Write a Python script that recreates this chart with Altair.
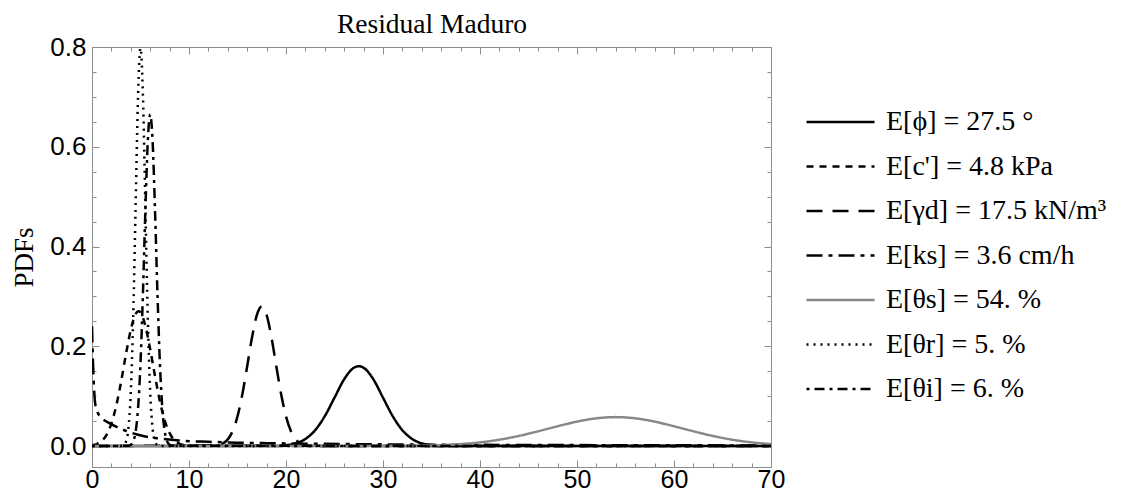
import altair as alt
import pandas as pd

# ---- data ----
series = [
    "E[ϕ] = 27.5 °",
    "E[c'] = 4.8 kPa",
    "E[γd] = 17.5 kN/m³",
    "E[ks] = 3.6 cm/h",
    "E[θs] = 54. %",
    "E[θr] = 5. %",
    "E[θi] = 6. %",
]

phi_x = [0, 19, 20, 21, 22, 23, 24, 25, 26, 27, 27.5, 28, 29, 30, 31, 32, 33, 34, 35, 36, 70]
phi_y = [0, 0, 0.0018, 0.0054, 0.0142, 0.0317, 0.060, 0.097, 0.134, 0.157, 0.160, 0.157, 0.134,
         0.097, 0.060, 0.0317, 0.0142, 0.0054, 0.0018, 0, 0]

cp_x = [0, 0.5, 1, 1.5, 2, 2.5, 3, 3.5, 4, 4.5, 4.8, 5, 5.5, 6, 6.5, 7, 7.5, 8, 8.5, 9, 9.5, 10, 70]
cp_y = [0.0014, 0.004, 0.010, 0.0225, 0.045, 0.081, 0.129, 0.184, 0.233, 0.265, 0.270, 0.268, 0.241,
        0.194, 0.140, 0.0895, 0.051, 0.026, 0.0119, 0.0048, 0.0017, 0.0005, 0]

gd_x = [0, 13, 13.5, 14, 14.5, 15, 15.5, 16, 16.5, 17, 17.5, 18, 18.5, 19, 19.5, 20, 20.5, 21, 21.5,
        22, 23, 70]
gd_y = [0, 0.0018, 0.0053, 0.0134, 0.030, 0.0594, 0.104, 0.160, 0.218, 0.263, 0.280, 0.263, 0.218,
        0.160, 0.104, 0.0594, 0.030, 0.0134, 0.0053, 0.0018, 0, 0]

ks_x = [0, 0.1, 0.2, 0.3, 0.45, 0.7, 1.0, 1.6, 2.7, 3.7, 5.5, 7, 9, 12, 15, 18, 22, 26, 30, 40, 50,
        60, 70]
ks_y = [0.24, 0.17, 0.12, 0.09, 0.074, 0.063, 0.056, 0.048, 0.037, 0.029, 0.019, 0.015, 0.011,
        0.0085, 0.0068, 0.0058, 0.0048, 0.004, 0.0034, 0.0025, 0.0019, 0.0015, 0.0012]

ts_x = [0, 30, 34, 36, 38, 40, 42, 44, 46, 48, 50, 52, 54, 56, 58, 60, 62, 64, 66, 68, 70]
ts_y = [0, 0, 0.0009, 0.0019, 0.0039, 0.0074, 0.0128, 0.0203, 0.0296, 0.0397, 0.049, 0.0556, 0.058,
        0.0556, 0.049, 0.0397, 0.0296, 0.0203, 0.0128, 0.0074, 0.0039]

tr_x = [0, 3, 3.25, 3.5, 3.75, 4, 4.25, 4.5, 4.75, 5, 5.25, 5.5, 5.75, 6, 6.25, 6.5, 6.75, 7, 70]
tr_y = [0, 0.0003, 0.0017, 0.0089, 0.035, 0.108, 0.259, 0.484, 0.704, 0.798, 0.704, 0.484, 0.259,
        0.108, 0.035, 0.0089, 0.0017, 0.0003, 0]

ti_x = [0, 3.75, 4, 4.25, 4.5, 4.75, 5, 5.25, 5.5, 5.75, 6, 6.25, 6.5, 6.75, 7, 7.25, 7.5, 7.75, 8,
        8.25, 70]
ti_y = [0, 0.0006, 0.0026, 0.0095, 0.029, 0.076, 0.166, 0.305, 0.470, 0.610, 0.665, 0.610, 0.470,
        0.305, 0.166, 0.076, 0.029, 0.0095, 0.0026, 0.0006, 0]

title_text = "Residual Maduro"
x_major = [0, 10, 20, 30, 40, 50, 60, 70]
x_minor = list(range(0, 71, 2))
y_major = [0.0, 0.2, 0.4, 0.6, 0.8]
y_minor = [0.0, 0.05, 0.1, 0.15, 0.2, 0.25, 0.3, 0.35, 0.4, 0.45, 0.5, 0.55, 0.6, 0.65, 0.7, 0.75, 0.8]

series_colors = ["#000000", "#000000", "#000000", "#000000", "#888888", "#000000", "#000000"]
series_dash = [[1, 0], [7, 6], [16, 10], [16, 6, 4, 6], [1, 0], [2, 5], [3, 5, 10, 5]]

xs_all = [phi_x, cp_x, gd_x, ks_x, ts_x, tr_x, ti_x]
ys_all = [phi_y, cp_y, gd_y, ks_y, ts_y, tr_y, ti_y]

rows = []
for name, xx, yy in zip(series, xs_all, ys_all):
    for a, b in zip(xx, yy):
        rows.append({"series": name, "x": a, "y": b})
df = pd.DataFrame(rows)

FRAME = "#8c8c8c"
xscale = alt.Scale(domain=[0, 70], nice=False, zero=False)
yscale = alt.Scale(domain=[-0.042, 0.8], nice=False, zero=False)

base = alt.Chart(df)

legend = alt.Legend(
    title=None, orient="none", legendX=713, legendY=60,
    symbolType="stroke", symbolSize=4624, symbolStrokeWidth=2.5,
    clipHeight=30, rowPadding=14.5, padding=0,
    labelFont="Liberation Serif", labelFontSize=28, labelColor="black",
    labelOffset=10, labelLimit=400,
)

lines = base.mark_line(interpolate="monotone", strokeWidth=2.5, clip=True).encode(
    x=alt.X("x:Q", scale=xscale, axis=alt.Axis(
        orient="bottom", values=x_major, ticks=False, domain=False, grid=False, title=None,
        labelFont="Liberation Sans", labelFontSize=25, labelColor="black", labelPadding=20,
        labelBaseline="alphabetic", labelFlush=False, labelOverlap=False)),
    y=alt.Y("y:Q", scale=yscale, axis=alt.Axis(
        orient="left", values=y_major, format=".1f", ticks=False, domain=False, grid=False,
        title="PDFs", titleFont="Liberation Serif", titleFontSize=27, titleFontWeight="normal",
        titleColor="black", titleX=-68, titleY=210, titleAlign="center", titleBaseline="middle",
        labelFont="Liberation Sans", labelFontSize=26, labelColor="black", labelPadding=6,
        labelFlush=False, labelOverlap=False)),
    color=alt.Color("series:N", scale=alt.Scale(domain=series, range=series_colors), legend=legend),
    strokeDash=alt.StrokeDash("series:N", scale=alt.Scale(domain=series, range=series_dash), legend=legend),
)


def tick_layer(xorient, yorient, xvals, yvals, size):
    return base.mark_point(opacity=0).encode(
        x=alt.X("x:Q", scale=xscale, axis=alt.Axis(
            orient=xorient, values=xvals, offset=-size, tickSize=size, labels=False, domain=False,
            grid=False, title=None, tickColor=FRAME, tickWidth=1)),
        y=alt.Y("y:Q", scale=yscale, axis=alt.Axis(
            orient=yorient, values=yvals, offset=-size, tickSize=size, labels=False, domain=False,
            grid=False, title=None, tickColor=FRAME, tickWidth=1)),
    )


# top axis that only carries the chart title
title_layer = base.mark_point(opacity=0).encode(
    x=alt.X("x:Q", scale=xscale, axis=alt.Axis(
        orient="top", ticks=False, labels=False, domain=False, grid=False,
        title=title_text, titleFont="Liberation Serif", titleFontSize=27.5,
        titleFontWeight="normal", titleColor="black", titleX=339.5, titleY=-15,
        titleAlign="center", titleBaseline="alphabetic")),
    y=alt.Y("y:Q", scale=yscale, axis=None),
)

chart = alt.layer(
    tick_layer("bottom", "left", x_major, y_major, 7),
    tick_layer("bottom", "left", x_minor, y_minor, 4),
    tick_layer("top", "right", x_major, y_major, 7),
    tick_layer("top", "right", x_minor, y_minor, 4),
    title_layer,
    lines,
).resolve_axis(x="independent", y="independent").properties(
    width=679, height=420,
    autosize=alt.AutoSizeParams(type="none"),
    padding={"left": 84, "top": 39, "right": 360, "bottom": 26},
).configure_view(stroke=FRAME, strokeWidth=1)

chart.save("out.html", embed_options={"renderer": "svg", "actions": False})
